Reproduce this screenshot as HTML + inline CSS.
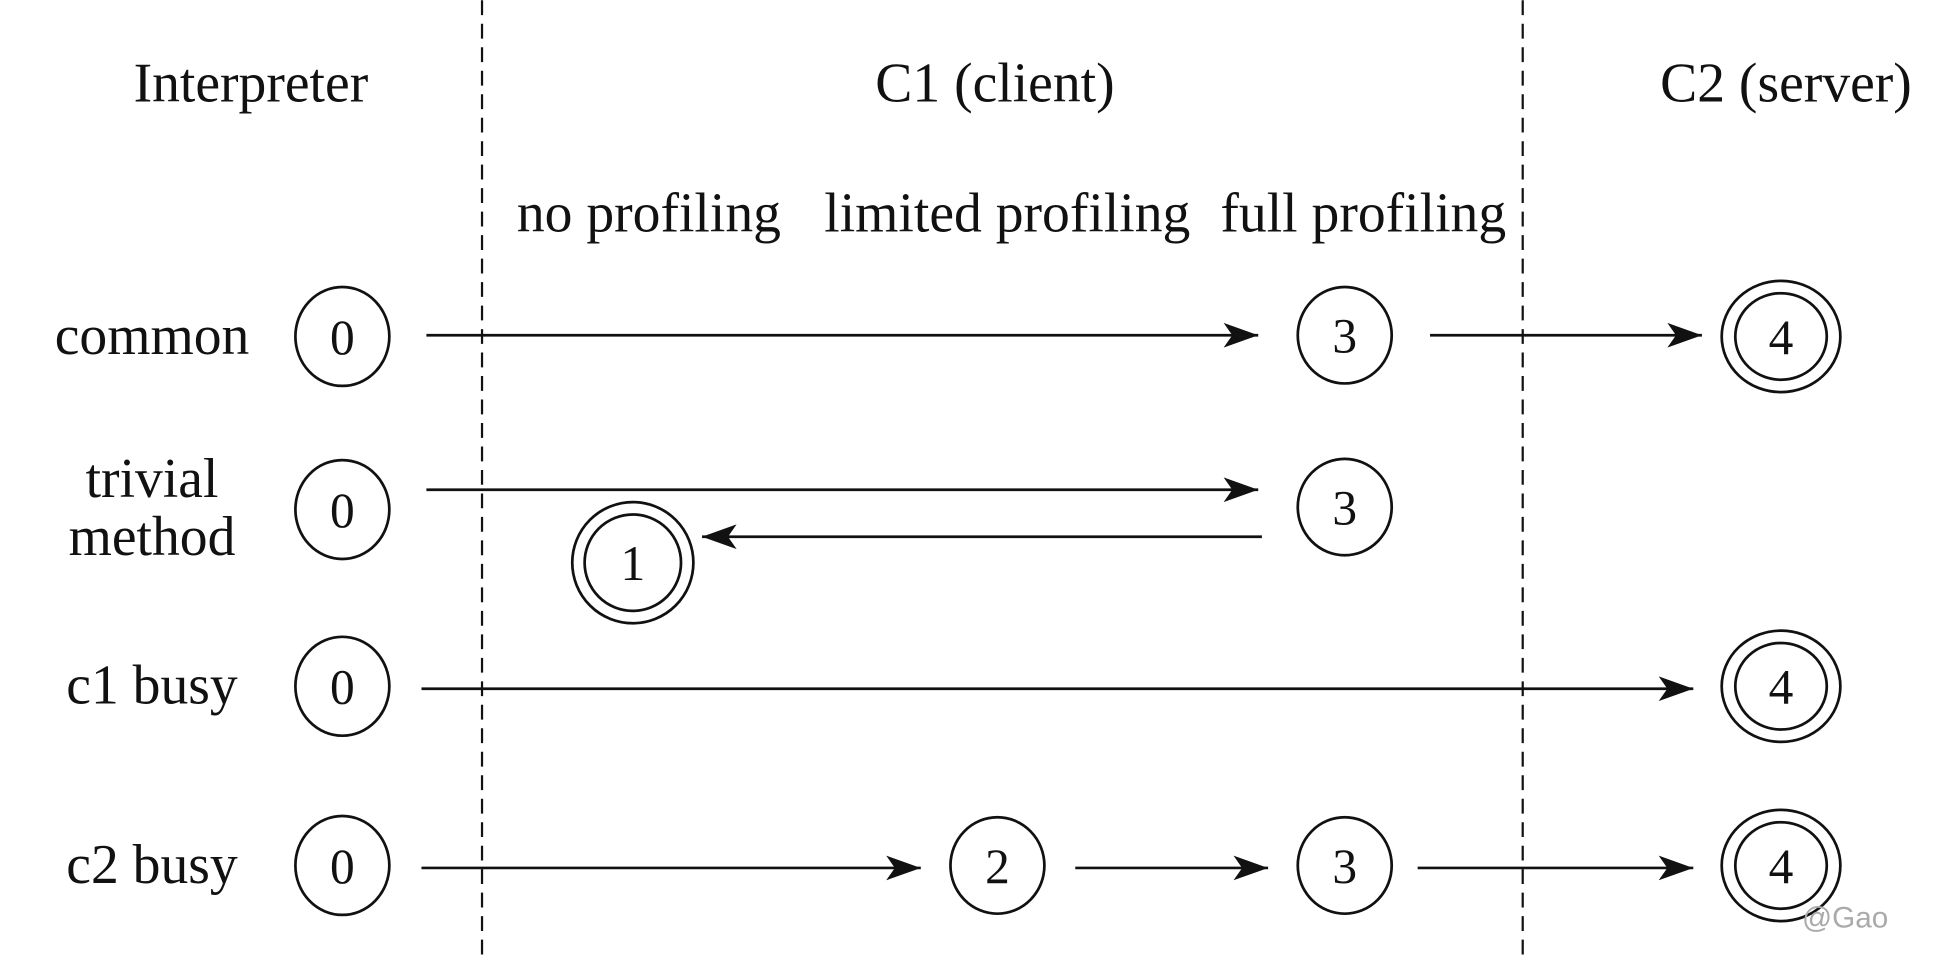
<!DOCTYPE html>
<html><head><style>html,body{margin:0;padding:0;background:#fff;}svg{display:block}</style></head>
<body>
<svg width="1938" height="956" viewBox="0 0 1568 773" xmlns="http://www.w3.org/2000/svg" font-family="Liberation Serif, serif" font-size="45" fill="#111">
<defs>
<marker id="a" markerWidth="30" markerHeight="20" refX="28" refY="10" orient="auto" markerUnits="userSpaceOnUse">
<path d="M0,0 L28,10 L0,20 L7,10 Z" fill="#111"/>
</marker>
</defs>
<g stroke="#111" stroke-width="1.8" stroke-dasharray="12,7">
<line x1="390" y1="0" x2="390" y2="773"/>
<line x1="1232" y1="0" x2="1232" y2="773"/>
</g>
<g text-anchor="middle">
<text x="203" y="82">Interpreter</text>
<text x="805" y="82">C1 (client)</text>
<text x="1445" y="82">C2 (server)</text>
<text x="525" y="187">no profiling</text>
<text x="815" y="187">limited profiling</text>
<text x="1103" y="187">full profiling</text>
<text x="123" y="286">common</text>
<text x="123" y="402">trivial</text>
<text x="123" y="449">method</text>
<text x="123" y="569">c1 busy</text>
<text x="123" y="714">c2 busy</text>
</g>
<g stroke="#111" stroke-width="2.2" fill="none">
<line x1="345" y1="271" x2="1018" y2="271" marker-end="url(#a)"/>
<line x1="1157" y1="271" x2="1377" y2="271" marker-end="url(#a)"/>
<line x1="345" y1="396" x2="1018" y2="396" marker-end="url(#a)"/>
<line x1="1021" y1="434" x2="568" y2="434" marker-end="url(#a)"/>
<line x1="341" y1="557" x2="1370" y2="557" marker-end="url(#a)"/>
<line x1="341" y1="702" x2="745" y2="702" marker-end="url(#a)"/>
<line x1="870" y1="702" x2="1026" y2="702" marker-end="url(#a)"/>
<line x1="1147" y1="702" x2="1370" y2="702" marker-end="url(#a)"/>
<ellipse cx="277" cy="272" rx="38" ry="40"/>
<ellipse cx="277" cy="412" rx="38" ry="40"/>
<ellipse cx="277" cy="555" rx="38" ry="40"/>
<ellipse cx="277" cy="700" rx="38" ry="40"/>
<ellipse cx="1088" cy="271" rx="38" ry="39"/>
<ellipse cx="1088" cy="410" rx="38" ry="39"/>
<ellipse cx="1088" cy="700" rx="38" ry="39"/>
<ellipse cx="807" cy="700" rx="38" ry="39"/>
<ellipse cx="512" cy="455" rx="49" ry="49"/><ellipse cx="512" cy="455" rx="39" ry="39"/>
<ellipse cx="1441" cy="272" rx="48" ry="45"/><ellipse cx="1441" cy="272" rx="37" ry="35"/>
<ellipse cx="1441" cy="555" rx="48" ry="45"/><ellipse cx="1441" cy="555" rx="37" ry="35"/>
<ellipse cx="1441" cy="700" rx="48" ry="45"/><ellipse cx="1441" cy="700" rx="37" ry="35"/>
</g>
<g text-anchor="middle" font-size="40">
<text x="277" y="286">0</text>
<text x="277" y="426">0</text>
<text x="277" y="569">0</text>
<text x="277" y="714">0</text>
<text x="1088" y="285">3</text>
<text x="1088" y="424">3</text>
<text x="1088" y="714">3</text>
<text x="807" y="714">2</text>
<text x="512" y="469">1</text>
<text x="1441" y="286">4</text>
<text x="1441" y="569">4</text>
<text x="1441" y="714">4</text>
</g>
<text x="1458" y="750" font-family="Liberation Sans, sans-serif" font-size="24" fill="#aaa">@Gao</text>
</svg>
</body></html>
